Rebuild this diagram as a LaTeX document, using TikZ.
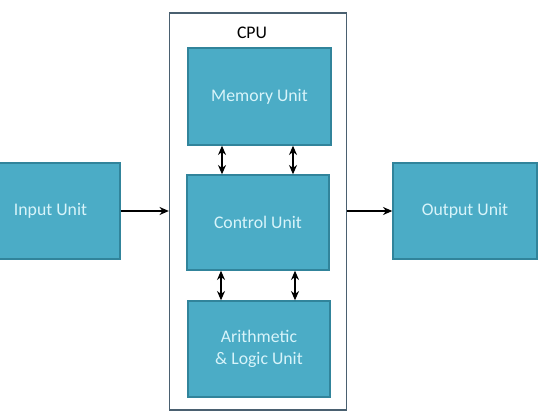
\documentclass[tikz,border=0pt]{standalone}
\usepackage{fontspec}
\setmainfont{Carlito}
\usetikzlibrary{arrows.meta}
\definecolor{unitfill}{HTML}{4BACC6}
\definecolor{unitdraw}{HTML}{31849B}
\definecolor{unittext}{HTML}{D8F4FA}
\definecolor{cpudraw}{HTML}{4A6070}
\begin{document}
\begin{tikzpicture}[x=0.75pt,y=-0.75pt,
  unitbox/.style={draw=unitdraw,line width=1pt,fill=unitfill,text=unittext,font=\fontsize{13.3}{16}\selectfont,align=center},
  link/.style={line width=1.5pt,-{Stealth[length=7pt,width=6pt]}},
  dlink/.style={line width=1.5pt,{Stealth[length=7pt,width=6pt]}-{Stealth[length=7pt,width=6pt]}}]
\useasboundingbox (0,0) rectangle (546,420);
\fill[white] (0,0) rectangle (546,420);
\node[draw=cpudraw,line width=1pt,minimum width=177*0.75pt,minimum height=397*0.75pt,inner sep=0pt] (cpu) at (258,211.5) {};
\node[font=\fontsize{13.3}{16}\selectfont] (cpulabel) at (252,33) {CPU};
\node[unitbox,minimum width=143*0.75pt,minimum height=97*0.75pt,inner sep=0pt] (mem) at (259.5,96.5) {Memory Unit};
\node[unitbox,minimum width=142*0.75pt,minimum height=95*0.75pt,inner sep=0pt] (ctrl) at (258,222.5) {Control Unit};
\node[unitbox,minimum width=142*0.75pt,minimum height=96*0.75pt,inner sep=0pt] (alu) at (259,349) {Arithmetic\\\& Logic Unit};
\node[unitbox,minimum width=139*0.75pt,minimum height=96*0.75pt,inner sep=0pt] (in) at (50.5,211) {Input Unit};
\node[unitbox,minimum width=144*0.75pt,minimum height=96*0.75pt,inner sep=0pt] (out) at (465,211) {Output Unit};
\draw[link] (in.east) -- (in.east -| cpu.west);
\draw[link] (cpu.east |- out.west) -- (out.west);
\draw[dlink] (mem.south -| 222,0) -- (ctrl.north -| 222,0);
\draw[dlink] (mem.south -| 293,0) -- (ctrl.north -| 293,0);
\draw[dlink] (ctrl.south -| 221,0) -- (alu.north -| 221,0);
\draw[dlink] (ctrl.south -| 295,0) -- (alu.north -| 295,0);
\end{tikzpicture}
\end{document}
